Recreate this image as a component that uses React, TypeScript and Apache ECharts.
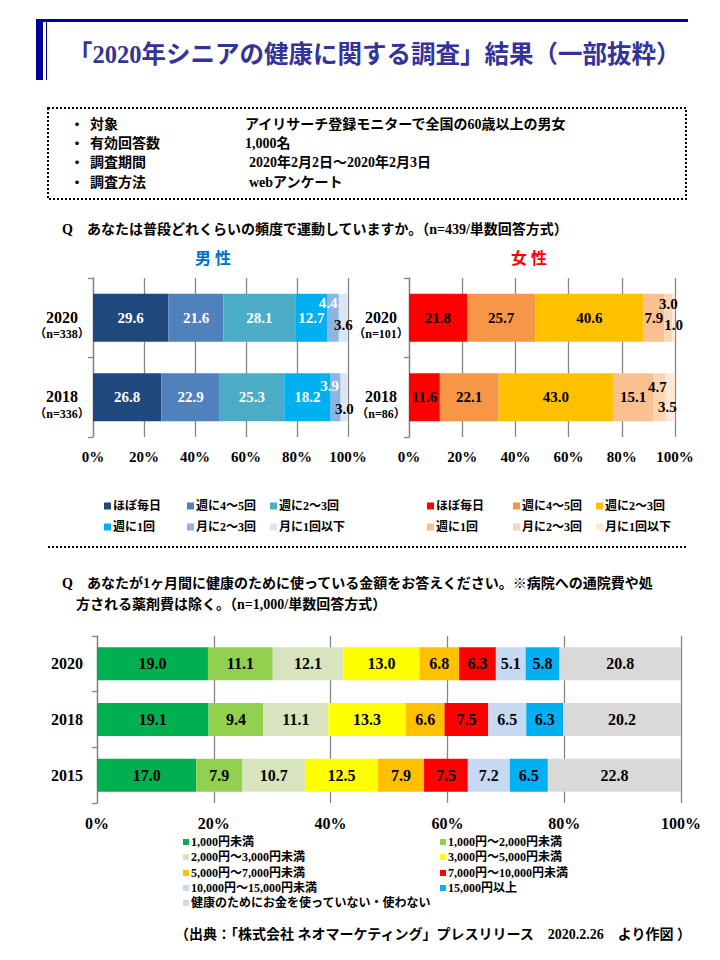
import React, { useEffect, useRef } from "react";
import * as echarts from "echarts";

const SERIF = "'Liberation Serif','Times New Roman','Noto Sans CJK JP',serif";

// ---- Exercise frequency (Q1) ----
const exerciseCategories = ["ほぼ毎日", "週に4～5回", "週に2～3回", "週に1回", "月に2～3回", "月に1回以下"];
const exerciseYears = ["2020", "2018"];
const maleN = ["（n=338）", "（n=336）"];
const femaleN = ["（n=101）", "（n=86）"];
const male2020 = [29.6, 21.6, 28.1, 12.7, 4.4, 3.6];
const male2018 = [26.8, 22.9, 25.3, 18.2, 3.9, 3.0];
const female2020 = [21.8, 25.7, 40.6, 7.9, 3.0, 1.0];
const female2018 = [11.6, 22.1, 43.0, 15.1, 4.7, 3.5];
const maleColors = ["#1F497D", "#4F81BD", "#4BACC6", "#00B0F0", "#8EB4E3", "#DCE6F2"];
const femaleColors = ["#FF0000", "#F79646", "#FFC000", "#FAC090", "#FCD5B5", "#FDE9D9"];
const maleLabelColors = ["#fff", "#fff", "#fff", "#fff", "#fff", "#000"];
const femaleLabelColors = ["#000", "#000", "#000", "#000", "#000", "#000"];

// ---- Monthly health spending (Q2) ----
const spendCategories = [
  "1,000円未満",
  "1,000円～2,000円未満",
  "2,000円～3,000円未満",
  "3,000円～5,000円未満",
  "5,000円～7,000円未満",
  "7,000円～10,000円未満",
  "10,000円～15,000円未満",
  "15,000円以上",
  "健康のためにお金を使っていない・使わない",
];
const spendYears = ["2020", "2018", "2015"];
const spend2020 = [19.0, 11.1, 12.1, 13.0, 6.8, 6.3, 5.1, 5.8, 20.8];
const spend2018 = [19.1, 9.4, 11.1, 13.3, 6.6, 7.5, 6.5, 6.3, 20.2];
const spend2015 = [17.0, 7.9, 10.7, 12.5, 7.9, 7.5, 7.2, 6.5, 22.8];
const spendColors = ["#00B050", "#92D050", "#D7E4BD", "#FFFF00", "#FFC000", "#FF0000", "#C6D9F1", "#00B0F0", "#D9D9D9"];

// ---- Texts ----
const titleText = "「2020年シニアの健康に関する調査」結果（一部抜粋）";
const infoLabels = ["対象", "有効回答数", "調査期間", "調査方法"];
const infoValues = ["アイリサーチ登録モニターで全国の60歳以上の男女", "1,000名", "2020年2月2日～2020年2月3日", "webアンケート"];
const q1Text = "Q　あなたは普段どれくらいの頻度で運動していますか。（n=439/単数回答方式）";
const q2Line1 = "Q　あなたが1ヶ月間に健康のために使っている金額をお答えください。※病院への通院費や処";
const q2Line2 = "方される薬剤費は除く。（n=1,000/単数回答方式）";
const sourceText = "（出典：「株式会社 ネオマーケティング」プレスリリース　2020.2.26　より作図 ）";

type Offsets = Record<string, [number, number]>;
const maleOffsets: Offsets = { "0-4": [-5, -15], "0-5": [0, 7], "1-4": [-6, -11], "1-5": [0, 12] };
const femaleOffsets: Offsets = { "0-4": [0, -14], "0-5": [0, 7], "1-4": [-2, -10], "1-5": [-3, 10] };

function buildSeries(
  names: string[],
  colors: string[],
  rows: number[][],
  labelColors: string[],
  stack: string,
  axisIndex: number,
  barWidth: number,
  fontSize: number,
  offsets: Offsets
) {
  return names.map((name, i) => ({
    type: "bar",
    name,
    stack,
    xAxisIndex: axisIndex,
    yAxisIndex: axisIndex,
    barWidth,
    itemStyle: { color: colors[i] },
    label: {
      show: true,
      position: "inside",
      color: labelColors[i],
      fontSize,
      fontWeight: "bold",
      fontFamily: SERIF,
      formatter: (p: any) => Number(p.value).toFixed(1),
    },
    emphasis: { disabled: true },
    data: rows.map((r, ri) => {
      const o = offsets[`${ri}-${i}`];
      return o ? { value: r[i], label: { offset: o } } : r[i];
    }),
  }));
}

const txt = (x: number, y: number, text: string, size: number, fill = "#000", align = "left") => ({
  type: "text",
  x,
  y,
  style: {
    text,
    fill,
    fontSize: size,
    fontWeight: "bold",
    fontFamily: SERIF,
    align,
    verticalAlign: "middle",
  },
});

function legendItems(names: string[], colors: string[], cols: number[], rows: number[], sq: number, size: number) {
  const out: any[] = [];
  names.forEach((n, i) => {
    const cx = cols[i % cols.length];
    const cy = rows[Math.floor(i / cols.length)];
    out.push({ type: "rect", shape: { x: cx, y: cy - sq / 2, width: sq, height: sq }, style: { fill: colors[i] } });
    out.push(txt(cx + sq + 2, cy, n, size));
  });
  return out;
}

function valueAxis(gridIndex: number, fontSize: number, margin: number) {
  return {
    type: "value",
    gridIndex,
    min: 0,
    max: 100,
    interval: 20,
    axisLine: { show: false },
    axisTick: { show: false },
    splitLine: { show: true, lineStyle: { color: "#868686", width: 1.3 } },
    axisLabel: {
      formatter: "{value}%",
      fontSize,
      fontWeight: "bold",
      fontFamily: SERIF,
      color: "#000",
      margin,
    },
  };
}

const catAxisBase = {
  type: "category",
  inverse: true,
  axisLine: { show: true, lineStyle: { color: "#868686", width: 1.3 } },
  axisTick: { show: true, length: 5, lineStyle: { color: "#868686", width: 1.3 } },
};

function genderYAxis(gridIndex: number, nLabels: string[], margin: number) {
  return {
    ...catAxisBase,
    gridIndex,
    data: exerciseYears,
    axisLabel: {
      margin,
      align: "center",
      padding: [16, 0, 0, 0],
      formatter: (v: string, idx: number) => `{y|${v}}\n{n|${nLabels[idx]}}`,
      rich: {
        y: { fontSize: 16, fontWeight: "bold", fontFamily: SERIF, color: "#000", lineHeight: 17 },
        n: { fontSize: 12, fontWeight: "bold", fontFamily: SERIF, color: "#000", lineHeight: 17 },
      },
    },
  };
}

export default function App() {
  const ref = useRef<HTMLDivElement>(null);
  useEffect(() => {
    if (!ref.current) return;
    const chart = echarts.init(ref.current, undefined, { renderer: "svg" });

    const graphics: any[] = [
      // title decoration
      { type: "rect", shape: { x: 36, y: 19, width: 7, height: 61 }, style: { fill: "#000099" } },
      { type: "rect", shape: { x: 36, y: 19, width: 652, height: 3 }, style: { fill: "#000099" } },
      { type: "line", shape: { x1: 46.5, y1: 22, x2: 46.5, y2: 80 }, style: { stroke: "#000099", lineWidth: 1 } },
      txt(68, 54, titleText, 24.5, "#333399"),
      // info box
      {
        type: "rect",
        shape: { x: 48, y: 108, width: 638, height: 91 },
        style: { fill: "none", stroke: "#000", lineWidth: 2, lineDash: [2, 2] },
      },
      // Q1
      txt(62, 229, q1Text, 14),
      txt(213, 258, "男 性", 16, "#0070C0", "center"),
      txt(529, 258, "女 性", 16, "#FF0000", "center"),
      // separator
      {
        type: "line",
        shape: { x1: 48, y1: 547, x2: 686, y2: 547 },
        style: { stroke: "#000", lineWidth: 2, lineDash: [2, 2] },
      },
      txt(62, 583, q2Line1, 14),
      txt(76, 604, q2Line2, 14),
      txt(175, 934, sourceText, 14),
    ];
    const infoRows = [124, 143, 162, 182];
    infoLabels.forEach((l, i) => {
      graphics.push(txt(70, infoRows[i], "・", 14));
      graphics.push(txt(90, infoRows[i], l, 14));
      graphics.push(txt(i < 2 ? 245 : 249, infoRows[i], infoValues[i], 14));
    });
    graphics.push(...legendItems(exerciseCategories, maleColors, [104, 187, 270], [506, 527], 7, 12));
    graphics.push(...legendItems(exerciseCategories, femaleColors, [427, 513, 596], [506, 527], 7, 12));
    graphics.push(...legendItems(spendCategories, spendColors, [183, 440], [842, 857, 873, 888, 903], 6, 12));

    const series = [
      ...buildSeries(exerciseCategories, maleColors, [male2020, male2018], maleLabelColors, "male", 0, 48, 15, maleOffsets),
      ...buildSeries(exerciseCategories, femaleColors, [female2020, female2018], femaleLabelColors, "female", 1, 48, 15, femaleOffsets),
      ...buildSeries(
        spendCategories,
        spendColors,
        [spend2020, spend2018, spend2015],
        spendCategories.map(() => "#000"),
        "spend",
        2,
        33,
        16,
        {}
      ),
    ];

    chart.setOption({
      animation: false,
      backgroundColor: "#fff",
      grid: [
        { left: 93, top: 278, width: 255, height: 159 },
        { left: 409, top: 278, width: 266, height: 159 },
        { left: 97, top: 636, width: 584, height: 167 },
      ],
      xAxis: [valueAxis(0, 15, 12), valueAxis(1, 15, 12), valueAxis(2, 16, 12)],
      yAxis: [
        genderYAxis(0, maleN, 31),
        genderYAxis(1, femaleN, 28),
        {
          ...catAxisBase,
          gridIndex: 2,
          data: spendYears,
          axisLabel: { margin: 14, fontSize: 16, fontWeight: "bold", fontFamily: SERIF, color: "#000" },
        },
      ],
      series,
      graphic: { elements: graphics },
    });
    return () => chart.dispose();
  }, []);
  return <div ref={ref} style={{ position: "absolute", left: 0, top: 0, width: 720, height: 960 }} />;
}
